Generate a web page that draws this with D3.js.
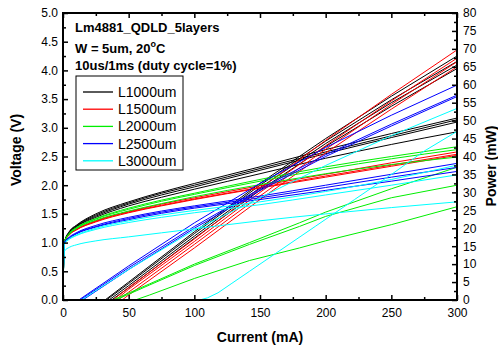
<!DOCTYPE html>
<html>
<head>
<meta charset="utf-8">
<script src="https://cdn.jsdelivr.net/npm/d3@7"></script>
<style>
  body { margin: 0; background: #fff; }
  svg { font-family: "Liberation Sans", Arial, sans-serif; }
</style>
</head>
<body>
<div class="chart"></div>
<script>
// data
const lengths = ["L1000um", "L1500um", "L2000um", "L2500um", "L3000um"];
const colors = ["#000000", "#ff0000", "#00ee00", "#0000ff", "#00ffff"];

// voltage (V) sampled at these currents (mA)
const currentV = [0, 1, 5, 10, 25, 50, 75, 100, 150, 200, 250, 300];

const voltL1000 = [
    [0, 1.0, 1.2, 1.3, 1.5, 1.71, 1.88, 2.03, 2.32, 2.62, 2.9, 3.17],
    [0, 1.0, 1.19, 1.29, 1.48, 1.69, 1.86, 2.0, 2.29, 2.58, 2.86, 3.14],
    [0, 1.0, 1.18, 1.28, 1.46, 1.67, 1.83, 1.97, 2.26, 2.55, 2.83, 3.1],
    [0, 1.0, 1.17, 1.27, 1.44, 1.64, 1.79, 1.93, 2.2, 2.47, 2.71, 2.93]
];
const voltL1500 = [
    [0, 1.0, 1.15, 1.23, 1.38, 1.54, 1.67, 1.78, 1.99, 2.19, 2.39, 2.58],
    [0, 1.0, 1.14, 1.22, 1.37, 1.53, 1.65, 1.76, 1.96, 2.16, 2.35, 2.54],
    [0, 1.0, 1.14, 1.22, 1.36, 1.52, 1.64, 1.75, 1.95, 2.14, 2.33, 2.52]
];
const voltL2000 = [
    [0, 1.0, 1.17, 1.26, 1.42, 1.6, 1.74, 1.86, 2.1, 2.32, 2.5, 2.67],
    [0, 1.0, 1.16, 1.25, 1.41, 1.58, 1.72, 1.84, 2.07, 2.28, 2.46, 2.62],
    [0, 1.0, 1.15, 1.24, 1.39, 1.55, 1.68, 1.8, 2.01, 2.2, 2.36, 2.49]
];
const voltL2500 = [
    [0, 1.0, 1.1, 1.17, 1.3, 1.44, 1.55, 1.64, 1.81, 2.0, 2.19, 2.38],
    [0, 1.0, 1.09, 1.16, 1.28, 1.42, 1.53, 1.62, 1.78, 1.96, 2.14, 2.31],
    [0, 1.0, 1.08, 1.15, 1.27, 1.4, 1.51, 1.6, 1.75, 1.91, 2.07, 2.24]
];
const voltL3000 = [
    [0, 0.98, 1.07, 1.13, 1.25, 1.38, 1.48, 1.56, 1.71, 1.89, 2.1, 2.35],
    [0, 0.97, 1.06, 1.12, 1.23, 1.35, 1.44, 1.52, 1.66, 1.83, 2.0, 2.18],
    [0, 0.85, 0.92, 0.96, 1.03, 1.1, 1.17, 1.24, 1.38, 1.5, 1.61, 1.71]
];

// power (mW) as [current mA, power mW]
const powL1000 = [
    [[0, 0], [32, 0], [50, 5], [100, 19], [150, 32.5], [200, 45], [250, 56.8], [300, 68]],
    [[0, 0], [33, 0], [50, 4.6], [100, 18.5], [150, 32], [200, 44.3], [250, 55.8], [300, 66.5]],
    [[0, 0], [35, 0], [50, 4], [100, 17.8], [150, 31.3], [200, 43.6], [250, 55], [300, 65.5]],
    [[0, 0], [37, 0], [50, 3.4], [100, 17.2], [150, 30.6], [200, 42.8], [250, 54], [300, 64.5]]
];
const powL1500 = [
    [[0, 0], [38, 0], [50, 3.5], [100, 17], [150, 31], [200, 44.5], [250, 57.3], [300, 69.7]],
    [[0, 0], [40, 0], [50, 3], [100, 16.3], [150, 30], [200, 43], [250, 55.5], [300, 67.4]],
    [[0, 0], [42, 0], [50, 2.2], [100, 15.5], [150, 29], [200, 42], [250, 54.5], [300, 66.4]],
    [[0, 0], [45, 0], [50, 1.4], [100, 14.5], [150, 28], [200, 41], [250, 53.2], [300, 65]]
];
const powL2000 = [
    [[0, 0], [38, 0], [66, 4.5], [100, 10], [142, 16], [180, 21.5], [200, 24.5], [250, 31], [300, 37]],
    [[0, 0], [40, 0], [66, 4.2], [100, 9.6], [142, 15.5], [180, 20.5], [200, 23.3], [250, 28.5], [300, 32]],
    [[0, 0], [55, 0], [66, 1.4], [100, 6], [142, 11], [180, 14.5], [200, 16.5], [250, 21], [300, 26]]
];
const powL2500 = [
    [[0, 0], [12, 0], [50, 9.5], [100, 21.5], [150, 32.5], [200, 42.5], [250, 51.5], [300, 59.9]],
    [[0, 0], [13, 0], [50, 9], [100, 20.5], [150, 31], [200, 40.5], [250, 49], [300, 57.1]],
    [[0, 0], [15, 0], [50, 8.5], [100, 20], [150, 30.5], [200, 40], [250, 48.5], [300, 56.7]]
];
const powL3000 = [
    [[0, 0], [14, 0], [50, 8.5], [100, 19.5], [150, 28.5], [200, 37.5], [250, 45.8], [300, 53.4]],
    [[0, 0], [104, 0], [110, 0.6], [118, 2], [128, 4.5], [142, 8], [162, 13], [192, 20.5], [222, 28], [252, 35.5], [275, 41.5], [300, 47]]
];

const voltGroups = [voltL1000, voltL1500, voltL2000, voltL2500, voltL3000];
const powGroups = [powL1000, powL1500, powL2000, powL2500, powL3000];

const notes = ["Lm4881_QDLD_5layers", "W = 5um, 20", "10us/1ms (duty cycle=1%)"];

// layout
const width = 498;
const height = 350;
const m_left = 63, m_right = 457, m_top = 13, m_bottom = 300;

const svg = d3.select(".chart").append("svg")
    .attr("width", width)
    .attr("height", height);

const x_scale = d3.scaleLinear().domain([0, 300]).range([m_left, m_right]);
const yv_scale = d3.scaleLinear().domain([0, 5]).range([m_bottom, m_top]);
const yp_scale = d3.scaleLinear().domain([0, 80]).range([m_bottom, m_top]);

svg.append("clipPath").attr("id", "plot")
    .append("rect")
    .attr("x", m_left).attr("y", m_top)
    .attr("width", m_right - m_left).attr("height", m_bottom - m_top);

const plot = svg.append("g").attr("clip-path", "url(#plot)");

const v_line = d3.line()
    .x(d => x_scale(d[0]))
    .y(d => yv_scale(d[1]))
    .curve(d3.curveMonotoneX);

// power curves are straight segments
const p_line = d3.line()
    .x(d => x_scale(d[0]))
    .y(d => yp_scale(d[1]));

// draw curves, later lengths on top
lengths.forEach(function(name, i) {
    voltGroups[i].forEach(function(vals) {
        const pts = currentV.map((c, k) => [c, vals[k]]);
        plot.append("path")
            .attr("d", v_line(pts))
            .attr("fill", "none")
            .attr("stroke", colors[i])
            .attr("stroke-width", 1);
    });
    powGroups[i].forEach(function(pts) {
        plot.append("path")
            .attr("d", p_line(pts))
            .attr("fill", "none")
            .attr("stroke", colors[i])
            .attr("stroke-width", 1);
    });
});

// axes
function style_axis(g, labels) {
    g.select(".domain").remove();
    g.selectAll(".tick line").attr("stroke", "#000").attr("stroke-width", 1.5);
    g.selectAll(".tick text")
        .attr("fill", "#000")
        .style("font-size", "12px")
        .style("font-family", "'Liberation Sans', Arial, sans-serif");
    if (!labels) g.selectAll(".tick text").remove();
}

const x_major = d3.range(0, 301, 50);
const x_minor = d3.range(25, 300, 50);

svg.append("g")
    .attr("transform", "translate(0," + m_bottom + ")")
    .call(d3.axisBottom(x_scale).tickValues(x_major).tickSizeInner(-5).tickSizeOuter(0).tickPadding(8))
    .call(g => style_axis(g, true));
svg.append("g")
    .attr("transform", "translate(0," + m_bottom + ")")
    .call(d3.axisBottom(x_scale).tickValues(x_minor).tickSize(-3))
    .call(g => style_axis(g, false));
svg.append("g")
    .attr("transform", "translate(0," + m_top + ")")
    .call(d3.axisTop(x_scale).tickValues(x_major).tickSize(-5))
    .call(g => style_axis(g, false));
svg.append("g")
    .attr("transform", "translate(0," + m_top + ")")
    .call(d3.axisTop(x_scale).tickValues(x_minor).tickSize(-3))
    .call(g => style_axis(g, false));

svg.append("g")
    .attr("transform", "translate(" + m_left + ",0)")
    .call(d3.axisLeft(yv_scale).tickValues(d3.range(0, 5.01, 0.5)).tickFormat(d3.format(".1f"))
        .tickSizeInner(-5).tickSizeOuter(0).tickPadding(5))
    .call(g => style_axis(g, true));
svg.append("g")
    .attr("transform", "translate(" + m_left + ",0)")
    .call(d3.axisLeft(yv_scale).tickValues(d3.range(0.25, 5, 0.5)).tickSize(-3))
    .call(g => style_axis(g, false));

svg.append("g")
    .attr("transform", "translate(" + m_right + ",0)")
    .call(d3.axisRight(yp_scale).tickValues(d3.range(0, 81, 5)).tickSizeInner(-5).tickSizeOuter(0).tickPadding(6))
    .call(g => style_axis(g, true));
svg.append("g")
    .attr("transform", "translate(" + m_right + ",0)")
    .call(d3.axisRight(yp_scale).tickValues(d3.range(2.5, 80, 5)).tickSize(-3))
    .call(g => style_axis(g, false));

// frame
svg.append("rect")
    .attr("x", m_left).attr("y", m_top)
    .attr("width", m_right - m_left).attr("height", m_bottom - m_top)
    .attr("fill", "none")
    .attr("stroke", "#000")
    .attr("stroke-width", 2);

// axis titles
svg.append("text")
    .attr("x", (m_left + m_right) / 2)
    .attr("y", 342)
    .attr("text-anchor", "middle")
    .style("font-size", "14px")
    .style("font-weight", "bold")
    .text("Current (mA)");

svg.append("text")
    .attr("transform", "translate(21,150) rotate(-90)")
    .attr("text-anchor", "middle")
    .style("font-size", "14px")
    .style("font-weight", "bold")
    .text("Voltage (V)");

svg.append("text")
    .attr("transform", "translate(496,166) rotate(-90)")
    .attr("text-anchor", "middle")
    .style("font-size", "14px")
    .style("font-weight", "bold")
    .text("Power (mW)");

// notes
const note_y = [32, 53, 70];
notes.forEach(function(t, i) {
    const txt = svg.append("text")
        .attr("x", 75)
        .attr("y", note_y[i])
        .style("font-size", "13px")
        .style("font-weight", "bold")
        .text(t);
    if (i === 1) {
        txt.append("tspan").attr("dy", -6).style("font-size", "9px").text("o");
        txt.append("tspan").attr("dy", 6).text("C");
    }
});

// legend
svg.append("rect")
    .attr("x", 76).attr("y", 76)
    .attr("width", 107).attr("height", 94)
    .attr("fill", "#fff")
    .attr("stroke", "#000")
    .attr("stroke-width", 1);

lengths.forEach(function(name, i) {
    const ly = 92 + i * 17.2;
    svg.append("line")
        .attr("x1", 83).attr("x2", 113)
        .attr("y1", ly).attr("y2", ly)
        .attr("stroke", colors[i])
        .attr("stroke-width", 1.3);
    svg.append("text")
        .attr("x", 118)
        .attr("y", ly + 5)
        .style("font-size", "14px")
        .text(name);
});
</script>
</body>
</html>
